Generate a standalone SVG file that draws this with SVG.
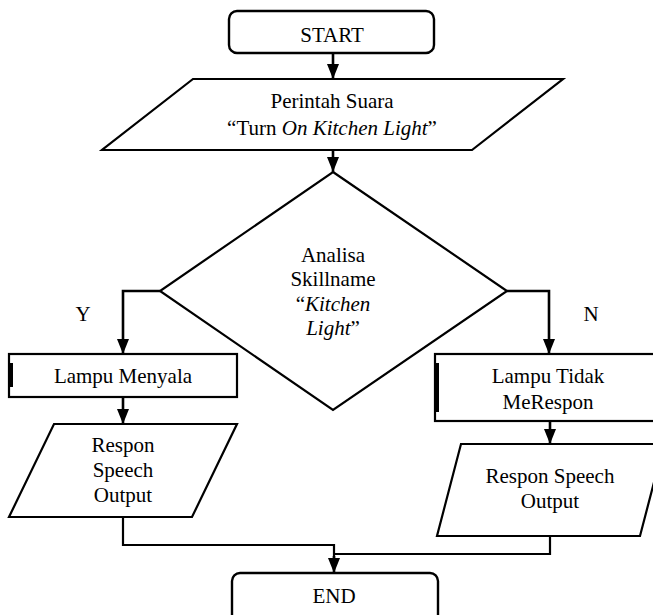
<svg xmlns="http://www.w3.org/2000/svg" width="653" height="615" viewBox="0 0 653 615">
  <defs>
    <style>
      .shape { fill: #ffffff; stroke: #000000; stroke-width: 2.2; stroke-linejoin: miter; }
      .term { fill: #ffffff; stroke: #000000; stroke-width: 2.4; }
      .label { font-family: 'Liberation Serif', 'Times New Roman', Times, serif; font-size: 21px; fill: #000000; text-anchor: middle; }
      .it { font-style: italic; }
      .wire { fill: none; stroke: #000000; stroke-width: 2.6; stroke-linejoin: miter; }
      .thin { fill: none; stroke: #000000; stroke-width: 2.2; }
      .edge { fill: #000000; }
    </style>
    <marker id="arrow" viewBox="0 0 15 12" refX="15" refY="6" markerWidth="15" markerHeight="12" markerUnits="userSpaceOnUse" orient="auto">
      <path d="M0,0 L15,6 L0,12 z" fill="#000000"/>
    </marker>
  </defs>

  <rect width="653" height="615" fill="#ffffff"/>

  <!-- connectors -->
  <g id="connectors">
    <path class="wire" d="M333,53 V79" marker-end="url(#arrow)"/>
    <path class="wire" d="M333,150 V172" marker-end="url(#arrow)"/>
    <path class="wire" d="M160,291 H123 V354" marker-end="url(#arrow)"/>
    <path class="wire" d="M507,291 H549 V354" marker-end="url(#arrow)"/>
    <path class="wire" d="M123,397 V424" marker-end="url(#arrow)"/>
    <path class="wire" d="M550,421 V444" marker-end="url(#arrow)"/>
    <path class="thin" d="M123,517 V545 H334 V560"/>
    <path class="wire" d="M334,556 V573" marker-end="url(#arrow)"/>
    <path class="thin" d="M550,536 V554 H334"/>
  </g>

  <!-- start terminal -->
  <g id="start">
    <rect class="term" x="229" y="11" width="205" height="42" rx="8" ry="8"/>
    <text class="label" font-family="Liberation Serif, serif" x="332" y="42">START</text>
  </g>

  <!-- voice command input -->
  <g id="voice-input">
    <polygon class="shape" points="193,79 563,79 472,150 102,150"/>
    <text class="label" x="332" y="108">Perintah Suara</text>
    <text class="label" x="332" y="135">“Turn <tspan class="it">On Kitchen Light</tspan>”</text>
  </g>

  <!-- skill name decision -->
  <g id="decision">
    <polygon class="shape" points="333,172 507,291 333,410 160,291"/>
    <text class="label" x="333" y="262">Analisa</text>
    <text class="label" x="333" y="286">Skillname</text>
    <text class="label" x="333" y="311">“<tspan class="it">Kitchen</tspan></text>
    <text class="label" x="333" y="335"><tspan class="it">Light</tspan>”</text>
    <text class="label" x="83" y="321">Y</text>
    <text class="label" x="591" y="321">N</text>
  </g>

  <!-- yes branch: lamp on -->
  <g id="lamp-on">
    <rect class="shape" x="9" y="354" width="228" height="43"/>
    <rect class="edge" x="9" y="363" width="4" height="24"/>
    <text class="label" x="123" y="383">Lampu Menyala</text>
  </g>

  <g id="speech-yes">
    <polygon class="shape" points="54,424 237,424 192,517 9,517"/>
    <text class="label" x="123" y="452">Respon</text>
    <text class="label" x="123" y="477">Speech</text>
    <text class="label" x="123" y="502">Output</text>
  </g>

  <!-- no branch: lamp does not respond -->
  <g id="lamp-no-response">
    <rect class="shape" x="435" y="354" width="226" height="67"/>
    <rect class="edge" x="435" y="363" width="4" height="49"/>
    <text class="label" x="548" y="383">Lampu Tidak</text>
    <text class="label" x="548" y="409">MeRespon</text>
  </g>

  <g id="speech-no">
    <polygon class="shape" points="461,444 664,444 640,536 437,536"/>
    <text class="label" x="550" y="483">Respon Speech</text>
    <text class="label" x="550" y="508">Output</text>
  </g>

  <!-- end terminal -->
  <g id="end">
    <rect class="term" x="232" y="573" width="206" height="52" rx="8" ry="8"/>
    <text class="label" x="334" y="603">END</text>
  </g>
</svg>
